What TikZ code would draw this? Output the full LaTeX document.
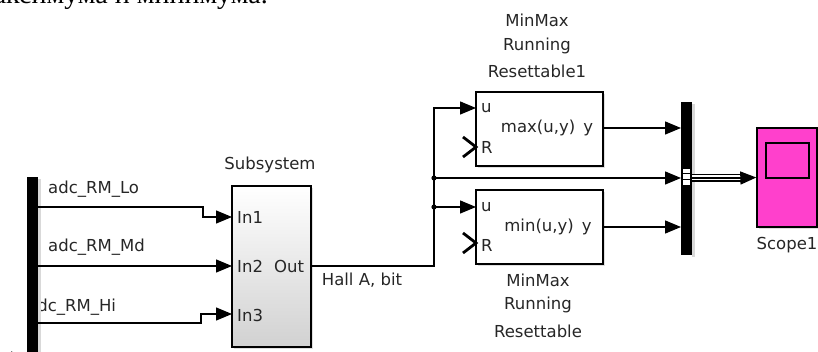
\documentclass[tikz,border=0pt]{standalone}
\usepackage{fontspec}
\setmainfont{DejaVu Sans}
\newfontfamily\serifcyr{Liberation Serif}
\usetikzlibrary{arrows.meta,shadows}
\definecolor{scopemag}{RGB}{255,64,204}
\begin{document}
\begin{tikzpicture}[x=1pt,y=-1pt,
  lbl/.style={font=\fontsize{16.5}{19}\selectfont, inner sep=0pt, text=black!85},
  sig/.style={line width=1.4pt},
  tip/.style={-{Triangle[length=16pt,width=13pt]}},
  blk/.style={draw, line width=1.4pt, inner sep=0pt, fill=white,
    drop shadow={shadow xshift=2pt, shadow yshift=-2pt, opacity=0.25}},
  busbar/.style={fill=black, inner sep=0pt, minimum width=11pt},
  chev/.style={line width=2.8pt, line cap=butt, line join=miter}]
\useasboundingbox (0,0) rectangle (818,352);
\clip (0,0) rectangle (818,352);

% cut-off text line at the top
\node[anchor=base east, inner sep=0pt, font=\serifcyr\fontsize{28}{30}\selectfont] (toptext) at (268,4) {максимума и минимума.};

% signal labels on the left (drawn before the bar)
\node[lbl, anchor=west] (lo) at (48,189) {adc\_RM\_Lo};
\node[lbl, anchor=west] (md) at (48,247) {adc\_RM\_Md};
\node[lbl, anchor=west] (hi) at (27,307) {adc\_RM\_Hi};

% left bus bar
\fill[black!15] (38,179) rectangle (41,360);
\node[busbar, minimum height=190pt, anchor=north west] (demux) at (27,177) {};

% subsystem
\node[blk, top color=white, bottom color=black!18, minimum width=79pt, minimum height=161pt] (sub) at (271.5,266.5) {};
\node[lbl] (subt) at (270,165) {Subsystem};
\node[lbl, anchor=west] (in1) at (237,217) {In1};
\node[lbl, anchor=west] (in2) at (237,266) {In2};
\node[lbl, anchor=west] (in3) at (237,315) {In3};
\node[lbl, anchor=west] (outl) at (274,266) {Out};

% ports
\coordinate (d0) at (0,358);
\coordinate (d1) at (38,207);
\coordinate (d2) at (38,266);
\coordinate (d3) at (38,323);
\coordinate (sin1) at (232,217);
\coordinate (sin2) at (232,266);
\coordinate (sin3) at (232,314);
\coordinate (sout) at (311,266);
\coordinate (j1) at (434,178);
\coordinate (j2) at (434,207);

% min/max blocks
\node[blk, minimum width=127pt, minimum height=74pt] (maxb) at (539.5,129) {};
\node[blk, minimum width=127pt, minimum height=74pt] (minb) at (539.5,227) {};
\coordinate (maxu) at (476,108);
\coordinate (maxr) at (476,147);
\coordinate (maxy) at (603,128);
\coordinate (minu) at (476,207);
\coordinate (minr) at (476,243);
\coordinate (miny) at (603,227);

\node[lbl, anchor=west] (maxul) at (481,108) {u};
\node[lbl, anchor=west] (maxrl) at (481,147) {R};
\node[lbl] (maxtxt) at (547,128) {max(u,y)\, y};
\node[lbl, anchor=west] (minul) at (481,207) {u};
\node[lbl, anchor=west] (minrl) at (481,245) {R};
\node[lbl] (mintxt) at (548,227) {min(u,y)\, y};

\node[lbl] (t1) at (537,20) {MinMax};
\node[lbl] (t2) at (537,46) {Running};
\node[lbl] (t3) at (537,71) {Resettable1};
\node[lbl] (b1) at (538,280) {MinMax};
\node[lbl] (b2) at (538,305) {Running};
\node[lbl] (b3) at (538,331) {Resettable};

\draw[chev] (463,137) -- (maxr) -- (463,157);
\draw[chev] (463,233) -- (minr) -- (463,253);

% mux bar
\fill[black!15] (692,104) rectangle (695,257);
\node[busbar, minimum height=153pt] (mux) at (686.5,178.5) {};
\fill[white] (683,169) rectangle (690,185);
\draw[line width=1pt] (683,174) -- (690,174) (683,180) -- (690,180);
\coordinate (mi1) at (681,128);
\coordinate (mi2) at (681,178);
\coordinate (mi3) at (681,227);
\coordinate (mout) at (692,178);

% scope
\node[blk, fill=scopemag, minimum width=60pt, minimum height=99pt] (scope) at (787,177.5) {};
\draw[line width=1.4pt] (766,143) rectangle (809,178);
\node[lbl] (scopel) at (787,245) {Scope1};

% connectors
\draw[sig,tip] (d0) -- (demux.west |- d0);
\draw[sig,tip] (d1) -- (203,207) -- (203,217) -- (sin1);
\draw[sig,tip] (d2) -- (sin2);
\draw[sig,tip] (d3) -- (201,323) -- (201,314) -- (sin3);
\draw[sig,tip] (sout) -- (434,266) -- (434,108) -- (maxu);
\node[lbl] (hall) at (362,280) {Hall A, bit};
\draw[sig,tip] (j1) -- (mi2);
\draw[sig,tip] (j2) -- (minu);
\fill (j1) circle (2.6pt);
\fill (j2) circle (2.6pt);
\draw[sig,tip] (maxy) -- (mi1);
\draw[sig,tip] (miny) -- (mi3);

% bus to scope
\draw[line width=8pt] (mout) -- (743,178);
\draw[white, line width=5pt] (mout) -- (743,178);
\draw[line width=1.2pt] (mout) -- (743,178);
\draw[sig,tip] (741,178) -- (scope.west);
\end{tikzpicture}
\end{document}
